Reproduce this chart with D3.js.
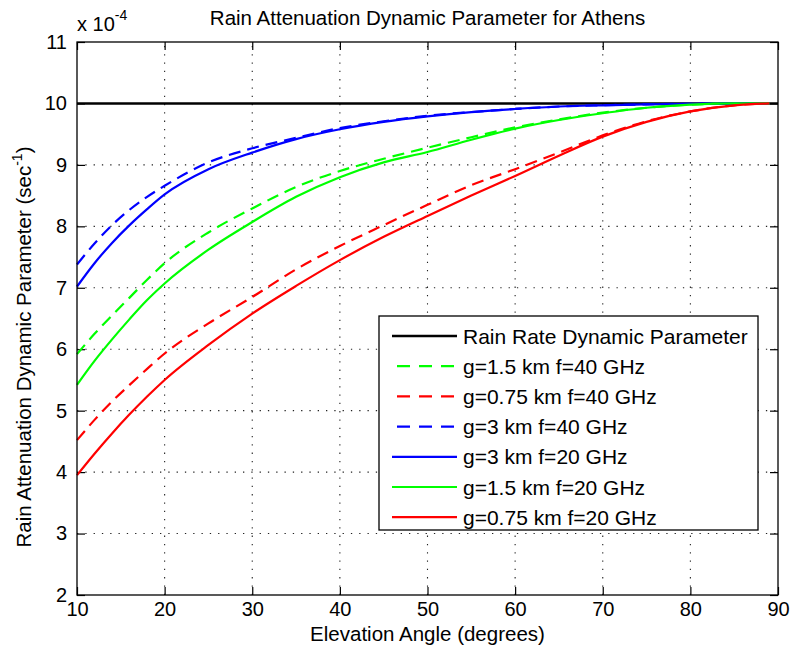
<!DOCTYPE html>
<html><head><meta charset="utf-8">
<script src="https://cdn.jsdelivr.net/npm/d3@7"></script>
<style>
body{margin:0;background:#fff;}
text{font-family:"Liberation Sans",Arial,Helvetica,sans-serif;fill:#000;}
</style></head>
<body><svg id="c" width="791" height="658"></svg>
<script>
const xs = [10,12,14,16,18,20,25,30,35,40,45,50,55,60,65,70,75,80,85,89];
const rainRateX = [10,90];
const rainRate = [10,10];
const g15f40 = [5.92,6.25,6.55,6.84,7.13,7.40,7.90,8.29,8.64,8.90,9.10,9.28,9.45,9.61,9.74,9.85,9.93,9.98,10.0,10.0];
const g075f40 = [4.52,4.85,5.15,5.42,5.68,5.93,6.42,6.85,7.30,7.68,8.02,8.35,8.67,8.93,9.20,9.48,9.71,9.87,9.97,10.0];
const g3f40 = [7.38,7.72,8.02,8.27,8.48,8.66,9.04,9.27,9.44,9.60,9.71,9.80,9.86,9.91,9.95,9.97,9.985,9.995,10.0,10.0];
const g3f20 = [7.02,7.40,7.73,8.02,8.28,8.52,8.93,9.20,9.42,9.58,9.70,9.79,9.86,9.91,9.95,9.97,9.985,9.995,10.0,10.0];
const g15f20 = [5.42,5.81,6.16,6.49,6.80,7.07,7.62,8.07,8.48,8.80,9.04,9.21,9.41,9.59,9.73,9.84,9.93,9.98,10.0,10.0];
const g075f20 = [3.95,4.30,4.63,4.94,5.23,5.50,6.07,6.58,7.03,7.45,7.83,8.17,8.50,8.82,9.15,9.46,9.70,9.87,9.97,10.0];
const xTicks = [10,20,30,40,50,60,70,80,90];
const yTicks = [2,3,4,5,6,7,8,9,10,11];
const legendLabels = ["Rain Rate Dynamic Parameter","g=1.5 km f=40 GHz","g=0.75 km f=40 GHz","g=3 km f=40 GHz","g=3 km f=20 GHz","g=1.5 km f=20 GHz","g=0.75 km f=20 GHz"];

const series = [
  {x:rainRateX, y:rainRate, color:"#000000", dash:null, w:2.6},
  {x:xs, y:g15f40, color:"#00ff00", dash:"12,7", w:2.2},
  {x:xs, y:g075f40, color:"#ff0000", dash:"12,7", w:2.2},
  {x:xs, y:g3f40, color:"#0000ff", dash:"12,7", w:2.2},
  {x:xs, y:g3f20, color:"#0000ff", dash:null, w:2.2},
  {x:xs, y:g15f20, color:"#00ff00", dash:null, w:2.2},
  {x:xs, y:g075f20, color:"#ff0000", dash:null, w:2.2}
];

const L=77, R=778, T=42, B=595;
const svg = d3.select("#c");
const x = d3.scaleLinear().domain([10,90]).range([L,R]);
const y = d3.scaleLinear().domain([2,11]).range([B,T]);

// grid
const grid = svg.append("g");
grid.selectAll("line.gx").data(xTicks.slice(1,-1)).enter().append("line")
  .attr("x1",d=>x(d)).attr("x2",d=>x(d)).attr("y1",B).attr("y2",T)
  .attr("stroke","#222").attr("stroke-width",1.1).attr("stroke-dasharray","1.3,7");
grid.selectAll("line.gy").data(yTicks.slice(1,-1)).enter().append("line")
  .attr("y1",d=>y(d)).attr("y2",d=>y(d)).attr("x1",L).attr("x2",R)
  .attr("stroke","#222").attr("stroke-width",1.1).attr("stroke-dasharray","1.3,7");

// axes (inner ticks)
const tl = 8;
const axB = svg.append("g").attr("transform",`translate(0,${B})`)
  .call(d3.axisBottom(x).tickValues(xTicks).tickSizeInner(-tl).tickSizeOuter(0).tickPadding(7));
const axT = svg.append("g").attr("transform",`translate(0,${T})`)
  .call(d3.axisTop(x).tickValues(xTicks).tickSizeInner(-tl).tickSizeOuter(0).tickFormat(""));
const axL = svg.append("g").attr("transform",`translate(${L},0)`)
  .call(d3.axisLeft(y).tickValues(yTicks).tickSizeInner(-tl).tickSizeOuter(0).tickPadding(10));
const axR = svg.append("g").attr("transform",`translate(${R},0)`)
  .call(d3.axisRight(y).tickValues(yTicks).tickSizeInner(-tl).tickSizeOuter(0).tickFormat(""));
[axB,axT,axL,axR].forEach(a=>{
  a.select(".domain").remove();
  a.selectAll(".tick line").attr("stroke","#000").attr("stroke-width",1.2);
  a.selectAll(".tick text").attr("font-size","20px").attr("font-family","Liberation Sans, Arial, sans-serif");
});
axB.selectAll(".tick text").attr("dy","0.71em");

// curves
const line = d3.line().curve(d3.curveMonotoneX);
const cg = svg.append("g");
series.forEach(s=>{
  const pts = s.x.map((v,i)=>[x(v), y(s.y[i])]);
  const p = cg.append("path").attr("d", line(pts)).attr("fill","none")
    .attr("stroke",s.color).attr("stroke-width",s.w);
  if(s.dash) p.attr("stroke-dasharray",s.dash);
});

// box
svg.append("rect").attr("x",L).attr("y",T).attr("width",R-L).attr("height",B-T)
  .attr("fill","none").attr("stroke","#000").attr("stroke-width",1.3);

// exponent label
const ex = svg.append("text").attr("x",L).attr("y",31).attr("font-size","20px");
ex.append("tspan").text("x 10");
ex.append("tspan").attr("font-size","14px").attr("dy","-11").text("-4");

// title
svg.append("text").attr("x",(L+R)/2).attr("y",25).attr("text-anchor","middle")
  .attr("font-size","20.5px").text("Rain Attenuation Dynamic Parameter for Athens");

// x label
svg.append("text").attr("x",(L+R)/2).attr("y",641).attr("text-anchor","middle")
  .attr("font-size","20.5px").text("Elevation Angle (degrees)");

// y label
const yl = svg.append("text").attr("transform","translate(31,347) rotate(-90)")
  .attr("text-anchor","middle").attr("font-size","20.5px");
yl.append("tspan").text("Rain Attenuation Dynamic Parameter (sec");
yl.append("tspan").attr("font-size","14px").attr("dy","-9").text("-1");
yl.append("tspan").attr("dy","9").text(")");

// legend
const lg = svg.append("g");
lg.append("rect").attr("x",379).attr("y",316).attr("width",379).attr("height",214)
  .attr("fill","#fff").attr("stroke","#000").attr("stroke-width",1.3);
series.forEach((s,i)=>{
  const cy = 336 + i*30.2;
  const l = lg.append("line").attr("x1",392).attr("x2",457).attr("y1",cy).attr("y2",cy)
    .attr("stroke",s.color).attr("stroke-width",s.w);
  if(s.dash) l.attr("stroke-dasharray","13,9").attr("stroke-dashoffset","-5");
  lg.append("text").attr("x",463).attr("y",cy).attr("dy","0.36em")
    .attr("font-size","21px").text(legendLabels[i]);
});
</script></body></html>
